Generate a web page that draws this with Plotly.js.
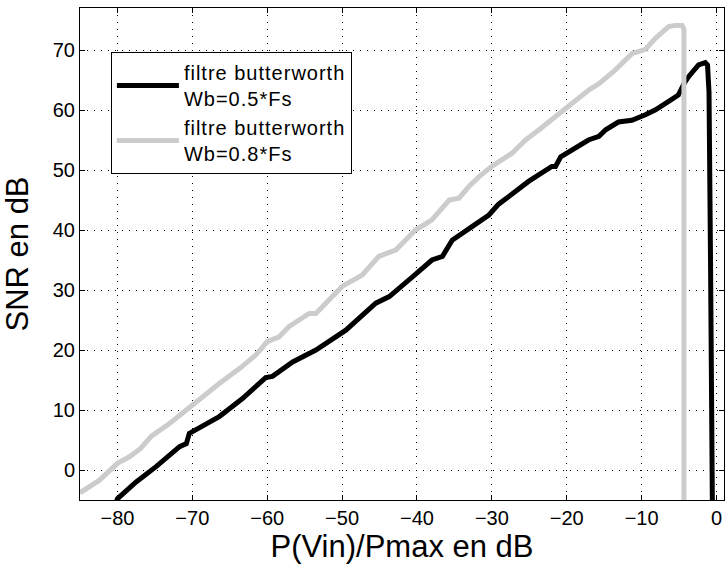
<!DOCTYPE html>
<html>
<head>
<meta charset="utf-8">
<script src="https://cdn.plot.ly/plotly-3.0.1.min.js"></script>
<style>html,body{margin:0;padding:0;background:#fff;}#chart{width:725px;height:566px;}
.legendtext{letter-spacing:1px;}</style>
</head>
<body>
<div id="chart"></div>
<script>
// Série 1 : filtre butterworth Wb=0.5*Fs
const xB05 = [-80.2, -80, -77.5, -74.8, -71.7, -70.8, -70.4, -66.4, -63.3, -60.2, -59.3, -58.4, -56.6, -53.5, -49.5, -45.5, -43.7, -40.6, -38, -36.6, -35.3, -32.6, -30.4, -29.1, -27.3, -25.1, -22, -21.5, -20.8, -18.8, -17.1, -15.7, -14.8, -13.1, -11.3, -9.5, -8.2, -6.8, -5.1, -4.3, -3.7, -2.4, -1.5, -1.2, -1.0, -0.8, -0.55];
const yB05 = [-5.5, -4.8, -2, 0.6, 3.9, 4.4, 6.1, 8.9, 11.9, 15.4, 15.6, 16.4, 18, 20, 23.3, 27.8, 28.9, 32.2, 35, 35.6, 38.3, 40.6, 42.5, 44.3, 46.1, 48.1, 50.6, 50.6, 52.2, 53.6, 55, 55.6, 56.7, 58, 58.3, 59.2, 60, 61.1, 62.5, 64.5, 65.6, 67.5, 67.9, 67.5, 63, 35, -6];
// Série 2 : filtre butterworth Wb=0.8*Fs
const xB08 = [-85, -82.4, -80, -78.4, -76.9, -76, -75.5, -73, -70.4, -66.4, -63.7, -61.5, -60, -58.4, -57.1, -55.7, -54.4, -53.5, -51.7, -50, -47.3, -45.1, -42.8, -40.2, -38, -35.7, -34.4, -33.1, -31.7, -30, -27.3, -25.5, -23.7, -19.7, -17.1, -15.7, -13.5, -11.3, -10, -9.5, -8.2, -6.4, -5.5, -4.6, -4.35, -4.35];
const yB08 = [-3.8, -1.7, 1.1, 2.2, 3.6, 4.7, 5.6, 7.8, 10.5, 14.4, 16.9, 19.2, 21.4, 22.2, 23.9, 25, 26.1, 26.1, 28.3, 30.6, 32.5, 35.6, 36.7, 40, 41.7, 45, 45.3, 47.2, 48.9, 50.6, 52.8, 55, 56.7, 60.6, 63.3, 64.4, 66.7, 69.4, 70, 70.1, 71.9, 73.9, 74.1, 74.1, 73.5, -6];

const names = ["filtre butterworth<br>Wb=0.5*Fs", "filtre butterworth<br>Wb=0.8*Fs"];
const xTicks = [-80, -70, -60, -50, -40, -30, -20, -10, 0];
const yTicks = [0, 10, 20, 30, 40, 50, 60, 70];

const font = "Liberation Sans, Arial, Helvetica, sans-serif";
const traces = [
  {x: xB05, y: yB05, mode: "lines", name: names[0], line: {color: "#000000", width: 5}},
  {x: xB08, y: yB08, mode: "lines", name: names[1], line: {color: "#cccccc", width: 5}}
];
const axisCommon = {
  showline: true, linecolor: "#000", linewidth: 1, mirror: "allticks",
  ticks: "inside", ticklen: 5, tickcolor: "#000", tickwidth: 1,
  showgrid: true, gridcolor: "#000", gridwidth: 1, griddash: "1px,6px",
  zeroline: false, tickfont: {family: font, size: 20, color: "#000"}
};
const layout = {
  width: 725, height: 566,
  margin: {l: 80, r: 1, t: 8, b: 66},
  paper_bgcolor: "#fff", plot_bgcolor: "#fff",
  font: {family: font, color: "#000"},
  showlegend: true,
  legend: {
    x: 0.048, y: 0.9106, xanchor: "left", yanchor: "top",
    bgcolor: "#fff", bordercolor: "#000", borderwidth: 1,
    itemwidth: 62,
    font: {family: font, size: 20, color: "#000"}
  },
  xaxis: Object.assign({}, axisCommon, {
    range: [-85, 1], tickvals: xTicks,
    title: {text: "P(Vin)/Pmax en dB", font: {family: font, size: 31, color: "#000"}, standoff: 4}
  }),
  yaxis: Object.assign({}, axisCommon, {
    range: [-5, 77], tickvals: yTicks,
    title: {text: "SNR en dB", font: {family: font, size: 31, color: "#000"}, standoff: 16}
  })
};
Plotly.newPlot("chart", traces, layout, {displayModeBar: false, staticPlot: true});
</script>
</body>
</html>
